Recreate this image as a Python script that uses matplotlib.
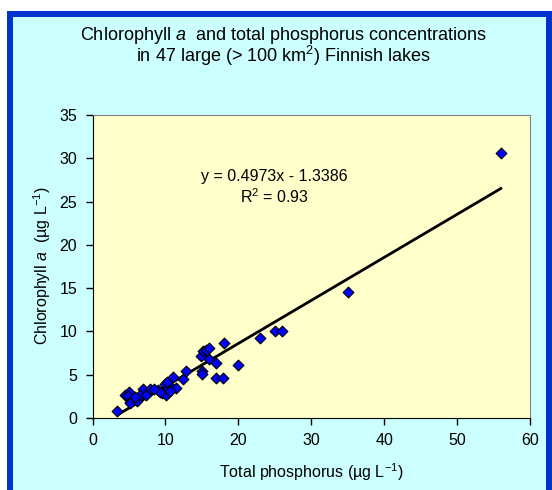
import numpy as np
import matplotlib
matplotlib.use('Agg')
import matplotlib.pyplot as plt
from matplotlib.patches import Rectangle

plt.rcParams['font.family'] = ['Liberation Sans', 'DejaVu Sans']
plt.rcParams['mathtext.fontset'] = 'custom'
plt.rcParams['mathtext.rm'] = 'Liberation Sans'
plt.rcParams['mathtext.it'] = 'Liberation Sans:italic'

# total phosphorus (ug/L) and chlorophyll a (ug/L), 47 lakes
tp = [3.4, 4.5, 5.0, 4.9, 5.1, 5.6, 5.2, 6.3, 6.7, 7.0,
      6.9, 6.1, 7.9, 9.0, 9.5, 9.9, 10.1, 10.4, 10.9, 11.5,
      11.0, 12.4, 12.8, 14.9, 15.1, 15.5, 16.0, 15.0, 15.0, 16.0,
      16.9, 16.9, 17.9, 18.0, 20.0, 23.0, 25.0, 26.0, 35.0, 56.0,
      10.2, 9.3, 8.5, 6.5, 5.8, 7.4, 10.6]
chl = [0.8, 2.7, 3.0, 2.5, 1.9, 2.1, 1.7, 2.3, 2.5, 2.9,
       3.3, 2.0, 3.3, 3.2, 2.9, 3.9, 2.7, 3.4, 3.5, 3.5,
       4.7, 4.5, 5.4, 7.2, 7.7, 7.8, 8.1, 5.4, 5.1, 6.8,
       6.4, 4.6, 4.6, 8.7, 6.1, 9.2, 10.0, 10.0, 14.5, 30.6,
       4.2, 3.0, 3.4, 2.7, 2.4, 2.7, 3.1]

slope = 0.4973
intercept = -1.3386
r2 = 0.93

W, H = 552, 490
fig = plt.figure(figsize=(W / 100, H / 100), dpi=100)
fig.patch.set_facecolor('white')

# chart frame
frame = Rectangle((10 / W, -10 / H), (549 - 10) / W, (500 - 14) / H,
                  transform=fig.transFigure, facecolor='#CCFFFF',
                  edgecolor='#0033CC', linewidth=4.3, zorder=-5)
fig.patches.append(frame)

ax = fig.add_axes([92.5 / W, 1 - 418 / H, (530 - 92.5) / W, (418 - 115) / H])
ax.set_zorder(2)
ax.set_facecolor('#FFFFCC')

ax.scatter(tp, chl, marker='D', s=30, facecolor='#0000FF',
           edgecolor='black', linewidth=0.8, zorder=3)

xs = np.array([min(tp), max(tp)])
ax.plot(xs, slope * xs + intercept, color='black', lw=2, zorder=2)

ax.set_xlim(0, 60)
ax.set_ylim(0, 35)
ax.set_xticks(np.arange(0, 61, 10))
ax.set_yticks(np.arange(0, 36, 5))
ax.tick_params(direction='out', length=5, width=1, labelsize=11.5,
               colors='black', pad=6)
for s in ['left', 'bottom']:
    ax.spines[s].set_color('black')
for s in ['top', 'right']:
    ax.spines[s].set_color('#808080')

fig.text(283 / W, 1 - 35 / H,
         'Chlorophyll $a$  and total phosphorus concentrations',
         ha='center', va='center', fontsize=13)
fig.text(283 / W, 1 - 56 / H,
         'in 47 large (> 100 km$^2$) Finnish lakes',
         ha='center', va='center', fontsize=13)

fig.text(42 / W, 1 - 266 / H, 'Chlorophyll $a$  (µg L$^{-1}$)',
         rotation=90, ha='center', va='center', fontsize=11.5)
fig.text(311 / W, 1 - 472 / H, 'Total phosphorus (µg L$^{-1}$)',
         ha='center', va='center', fontsize=11.5)

fig.text(274 / W, 1 - 176 / H,
         'y = %.4fx - %.4f' % (slope, -intercept),
         ha='center', va='center', fontsize=11.5, zorder=5)
fig.text(274 / W, 1 - 197 / H, 'R$^2$ = %.2f' % r2,
         ha='center', va='center', fontsize=11.5, zorder=5)

fig.savefig('out.png', dpi=100)
